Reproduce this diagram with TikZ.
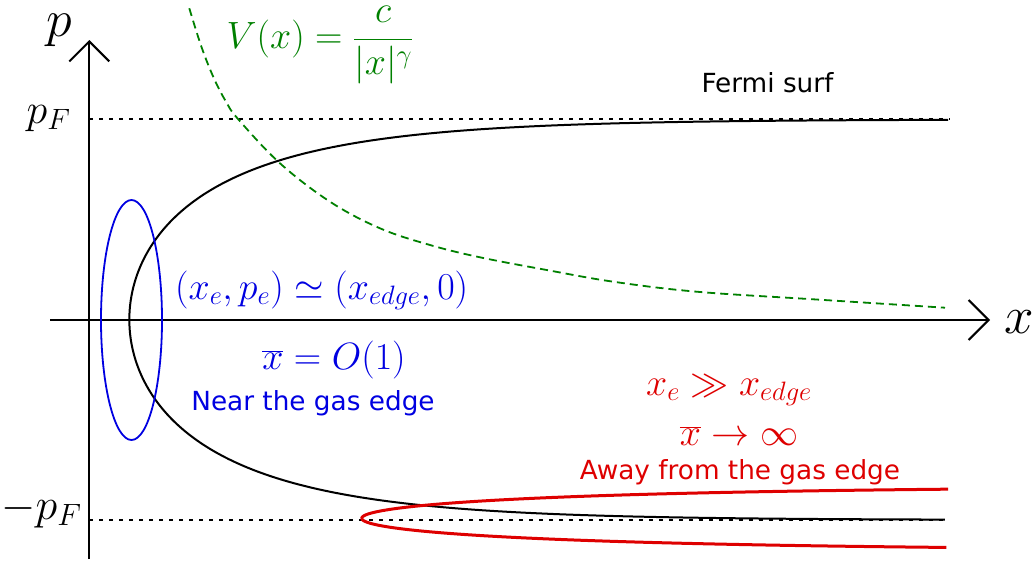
\RequirePackage{fix-cm}
\documentclass[tikz,border=0pt]{standalone}
\usepackage{fontspec}
\newfontfamily\dejavu{DejaVu Sans}
\usetikzlibrary{arrows.meta}
\definecolor{myblue}{RGB}{0,0,225}
\definecolor{myred}{RGB}{222,0,0}
\definecolor{mygreen}{RGB}{0,128,0}
\newcommand{\fsz}[1]{\fontsize{#1}{#1}\selectfont}
\begin{document}
\begin{tikzpicture}[x=1pt,y=-1pt,
  axisline/.style={line width=2pt,-{Straight Barb[length=20pt,width=40pt]}},
  fermidots/.style={line width=2pt,dash pattern=on 4pt off 6pt},
  fermicurve/.style={line width=2pt},
  potential/.style={mygreen,line width=1.8pt,dash pattern=on 8pt off 5pt},
  bluezone/.style={myblue,line width=1.8pt},
  redzone/.style={myred,line width=3pt},
  lbl/.style={inner sep=0pt,anchor=base},
  mathlbl/.style={lbl,font=\fsz{38}},
  sanslbl/.style={lbl,font=\dejavu\fsz{26.3}}]
\useasboundingbox (0,0) rectangle (1035,563);

% axes
\coordinate (xstart) at (50,320);
\coordinate (xend) at (990,320);
\coordinate (ystart) at (89.3,559);
\coordinate (yend) at (89.3,40);
\coordinate (pFl) at (89.3,119.3);
\coordinate (pFr) at (950,119.3);
\coordinate (mpFl) at (89.3,520);
\coordinate (mpFr) at (948,520);

\draw[fermidots] (pFl) -- (pFr);
\draw[fermidots] (mpFl) -- (mpFr);
\draw[axisline] (xstart) -- (xend);
\draw[axisline] (ystart) -- (yend);

% potential
\draw[potential] plot[smooth,tension=0.6] coordinates {(189.3,8.3) (201.5,47) (213.8,78) (226,101.7) (238.3,119.3) (280,163.3) (330,201.7) (380,228.3) (430,245) (480,257.3) (546.7,270) (613.3,281.7) (696.7,291.7) (813.3,299.3) (945,307.7)};

% Fermi surface
\draw[fermicurve] plot[variable=\t,domain=1:0,samples=150] ({129.3+818.7*\t*\t},{319.7-200.3*sqrt(max(0,1-exp(-818.7*\t*\t/150)))})
  -- plot[variable=\t,domain=0:1,samples=150] ({129.3+818.7*\t*\t},{319.7+200.3*sqrt(max(0,1-exp(-818.7*\t*\t/150)))});

% near edge ellipse
\draw[bluezone] (131.5,320) ellipse [x radius=30.5, y radius=120];

% far region
\draw[redzone] plot[variable=\t,domain=1:0,samples=120] ({361.7+586.3*\t*\t},{518.3-32.5*sqrt(max(0,1-exp(-586.3*\t*\t/360)))})
  -- plot[variable=\t,domain=0:1,samples=120] ({361.7+586.3*\t*\t},{518.3+32.5*sqrt(max(0,1-exp(-586.3*\t*\t/360)))});

% labels
\node[lbl,font=\fsz{52}] (plabel) at (59,36) {$p$};
\node[lbl,font=\fsz{53}] (xlabel) at (1019,333) {$x$};
\node[lbl,font=\fsz{42}] (pFlabel) at (48.5,123) {$p_F$};
\node[lbl,font=\fsz{44}] (mpFlabel) at (41.5,519) {$-p_F$};
\node[mathlbl,text=mygreen] (vlabel) at (320,48.3) {$V(x)={\displaystyle\frac{c}{|x|^\gamma}}$};
\node[sanslbl] (fermilabel) at (767.5,92.3) {Fermi surf};
\node[mathlbl,text=myblue] (edgept) at (321.7,299) {$(x_e,p_e)\simeq(x_{edge},0)$};
\node[mathlbl,text=myblue] (xbarO) at (334,369) {$\overline{x}=O(1)$};
\node[sanslbl,text=myblue] (nearlabel) at (313,410.5) {Near the gas edge};
\node[mathlbl,text=myred] (xegg) at (729,395) {$x_e\gg x_{edge}$};
\node[mathlbl,text=myred] (xbarinf) at (739,445) {$\overline{x}\to\infty$};
\node[sanslbl,text=myred] (awaylabel) at (740,479.5) {Away from the gas edge};
\end{tikzpicture}
\end{document}
